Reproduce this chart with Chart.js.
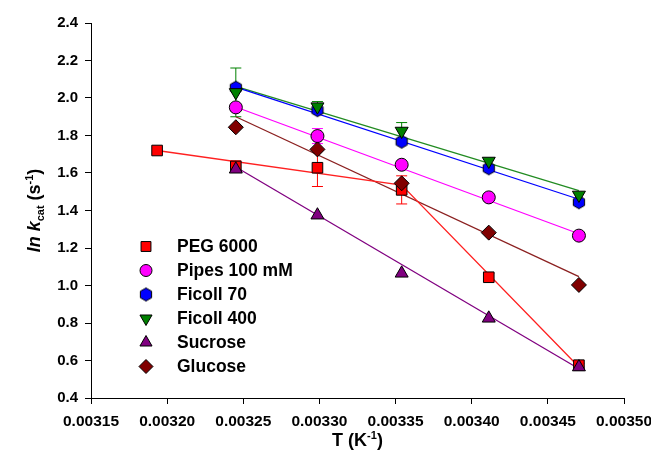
<!DOCTYPE html>
<html>
<head>
<meta charset="utf-8">
<script src="https://cdn.jsdelivr.net/npm/chart.js@4/dist/chart.umd.min.js"></script>
<style>
  body { margin: 0; background: #fff; }
  #wrap { width: 651px; height: 456px; }
</style>
</head>
<body>
<div id="wrap"><canvas id="arrhenius" width="651" height="456"></canvas></div>
<script>
// 1/T for 40, 35, 30, 25, 20, 15 °C
const invT = [0.0031934, 0.0032451, 0.0032987, 0.0033540, 0.0034112, 0.0034704];
const invT5 = invT.slice(1);

const pegY = [1.72, 1.635, 1.628, 1.51, 1.044, 0.575];
const pegErr = [0, 0.03, 0.1, 0.075, 0.02, 0.01];
const pipesY = [1.95, 1.797, 1.644, 1.47, 1.266];
const pipesErr = [0, 0.04, 0, 0, 0];
const ficoll70Y = [2.055, 1.935, 1.767, 1.625, 1.444];
const ficoll70Err = [0, 0, 0, 0, 0];
const ficoll400Y = [2.03, 1.954, 1.824, 1.664, 1.483];
const ficoll400Err = [0.13, 0.027, 0.045, 0, 0];
const sucroseY = [1.62, 1.375, 1.065, 0.825, 0.565];
const glucoseY = [1.844, 1.726, 1.545, 1.282, 1.003];

// regression lines (PEG is a two-segment fit)
const pegFitX = [0.0031934, 0.0033540, 0.0034704];
const pegFitY = [1.72, 1.536, 0.565];
const fitX = [0.0032451, 0.0034704];
const pipesFitY = [1.952, 1.276];
const ficoll70FitY = [2.058, 1.46];
const ficoll400FitY = [2.062, 1.506];
const sucroseFitY = [1.632, 0.556];
const glucoseFitY = [1.9, 1.047];

const xTicks = [0.00315, 0.0032, 0.00325, 0.0033, 0.00335, 0.0034, 0.00345, 0.0035];
const yTicks = [0.4, 0.6, 0.8, 1.0, 1.2, 1.4, 1.6, 1.8, 2.0, 2.2, 2.4];

const FONT = "'Liberation Sans', Arial, sans-serif";

// hexagon marker for Ficoll 70
function hexMarker(r) {
  const c = document.createElement("canvas");
  const s = Math.ceil(r * 2 + 3);
  c.width = s; c.height = s;
  const g = c.getContext("2d");
  g.beginPath();
  for (let i = 0; i < 6; i++) {
    const a = Math.PI / 6 + i * Math.PI / 3;
    const px = s / 2 + r * Math.cos(a), py = s / 2 + r * Math.sin(a);
    i ? g.lineTo(px, py) : g.moveTo(px, py);
  }
  g.closePath();
  g.fillStyle = "#0000ff";
  g.fill();
  g.strokeStyle = "#000";
  g.lineWidth = 1;
  g.stroke();
  return c;
}
const hex = hexMarker(6.5);

const pts = (xs, ys) => xs.map((x, i) => ({ x: x, y: ys[i] }));

function series(label, xs, ys, err, color, style, radius, rotation, order) {
  return {
    label: label, data: pts(xs, ys), err: err, errColor: color,
    showLine: false, pointStyle: style, pointRadius: radius, pointRotation: rotation || 0,
    pointBackgroundColor: color, pointBorderColor: "#000", pointBorderWidth: 1,
    backgroundColor: color, borderColor: "#000", order: order, isMarker: true
  };
}
function fit(xs, ys, color) {
  return {
    type: "line", data: pts(xs, ys), borderColor: color, borderWidth: 1.3,
    pointRadius: 0, fill: false, tension: 0, order: 20
  };
}

const datasets = [
  series("PEG 6000", invT, pegY, pegErr, "#ff0000", "rect", 7.5, 0, 6),
  series("Pipes 100 mM", invT5, pipesY, pipesErr, "#ff00ff", "circle", 6.5, 0, 5),
  series("Ficoll 70", invT5, ficoll70Y, ficoll70Err, "#0000ff", hex, 6.5, 0, 4),
  series("Ficoll 400", invT5, ficoll400Y, ficoll400Err, "#008000", "triangle", 7.5, 180, 3),
  series("Sucrose", invT5, sucroseY, null, "#800080", "triangle", 7.5, 0, 2),
  series("Glucose", invT5, glucoseY, null, "#800000", "rectRot", 7.5, 0, 1),
  fit(pegFitX, pegFitY, "#ff2020"),
  fit(fitX, pipesFitY, "#ff00ff"),
  fit(fitX, ficoll70FitY, "#0000ff"),
  fit(fitX, ficoll400FitY, "#228b22"),
  fit(fitX, sucroseFitY, "#800080"),
  fit(fitX, glucoseFitY, "#8b2020")
];

// error bars, drawn under the symbols
const errorBars = {
  id: "errorBars",
  beforeDatasetsDraw(chart) {
    const ctx = chart.ctx, xs = chart.scales.x, ys = chart.scales.y;
    ctx.save();
    ctx.lineWidth = 1;
    chart.data.datasets.forEach(ds => {
      if (!ds.err) return;
      ctx.strokeStyle = ds.errColor;
      ds.data.forEach((p, i) => {
        const e = ds.err[i];
        if (!e) return;
        const px = xs.getPixelForValue(p.x);
        const top = ys.getPixelForValue(p.y + e), bot = ys.getPixelForValue(p.y - e);
        ctx.beginPath();
        ctx.moveTo(px, top); ctx.lineTo(px, bot);
        ctx.moveTo(px - 5.5, top); ctx.lineTo(px + 5.5, top);
        ctx.moveTo(px - 5.5, bot); ctx.lineTo(px + 5.5, bot);
        ctx.stroke();
      });
    });
    ctx.restore();
  }
};

// legend and axis titles with sub/superscripts
const annotate = {
  id: "annotate",
  afterDraw(chart) {
    const ctx = chart.ctx;
    ctx.save();
    // legend
    ctx.textBaseline = "middle";
    ctx.fillStyle = "#000";
    let row = 0;
    chart.data.datasets.forEach(ds => {
      if (!ds.isMarker) return;
      const y = 246.5 + row * 24;
      ctx.fillStyle = ds.pointBackgroundColor;
      ctx.strokeStyle = "#000";
      ctx.lineWidth = 1;
      Chart.helpers.drawPoint(ctx, {
        pointStyle: ds.pointStyle, radius: ds.pointRadius - 0.5, rotation: ds.pointRotation, borderWidth: 1
      }, 146, y);
      ctx.fillStyle = "#000";
      ctx.textAlign = "left";
      ctx.font = "bold 17.5px " + FONT;
      ctx.fillText(ds.label, 177, y + 1);
      row++;
    });

    // x title: T (K-1)
    const parts = (list) => list.reduce((w, p) => { ctx.font = p.f; return w + ctx.measureText(p.t).width; }, 0);
    const drawParts = (list, x0, y0) => {
      let x = x0;
      list.forEach(p => {
        ctx.font = p.f;
        ctx.fillText(p.t, x, y0 + (p.dy || 0));
        x += ctx.measureText(p.t).width;
      });
    };
    ctx.textAlign = "left";
    ctx.textBaseline = "alphabetic";
    const big = "bold 18px " + FONT, small = "bold 11px " + FONT;
    const xt = [{ t: "T (K", f: big }, { t: "-1", f: small, dy: -7 }, { t: ")", f: big }];
    drawParts(xt, 357.5 - parts(xt) / 2, 446);

    const yt = [
      { t: "ln k", f: "italic bold 18px " + FONT },
      { t: "cat", f: small, dy: 4 },
      { t: " (s", f: big },
      { t: "-1", f: small, dy: -7 },
      { t: ")", f: big }
    ];
    ctx.translate(40, 210.5);
    ctx.rotate(-Math.PI / 2);
    drawParts(yt, -parts(yt) / 2, 0);
    ctx.restore();
  }
};

new Chart(document.getElementById("arrhenius"), {
  type: "scatter",
  data: { datasets: datasets },
  options: {
    responsive: false,
    animation: false,
    layout: { padding: { top: 23, right: 27, left: 0, bottom: 0 } },
    plugins: { legend: { display: false }, tooltip: { enabled: false } },
    scales: {
      x: {
        type: "linear",
        min: xTicks[0],
        max: xTicks[xTicks.length - 1],
        afterBuildTicks: s => { s.ticks = xTicks.map(v => ({ value: v })); },
        afterFit: s => { s.height = 58; s.paddingLeft = 0; s.paddingRight = 0; },
        ticks: {
          color: "#000",
          font: { family: FONT, size: 15.5, weight: "bold" },
          padding: 8,
          maxRotation: 0,
          autoSkip: false,
          callback: v => v.toFixed(5)
        },
        grid: { drawOnChartArea: false, drawTicks: true, tickLength: 6, color: "#000", tickColor: "#000" },
        border: { display: true, color: "#000", width: 1 }
      },
      y: {
        min: yTicks[0],
        max: yTicks[yTicks.length - 1],
        afterBuildTicks: s => { s.ticks = yTicks.map(v => ({ value: v })); },
        afterFit: s => { s.width = 91; s.paddingTop = 0; s.paddingBottom = 0; },
        ticks: {
          color: "#000",
          font: { family: FONT, size: 15, weight: "bold" },
          padding: 7,
          autoSkip: false,
          callback: v => v.toFixed(1)
        },
        grid: { drawOnChartArea: false, drawTicks: true, tickLength: 6, color: "#000", tickColor: "#000" },
        border: { display: true, color: "#000", width: 1 }
      }
    }
  },
  plugins: [errorBars, annotate]
});
</script>
</body>
</html>
